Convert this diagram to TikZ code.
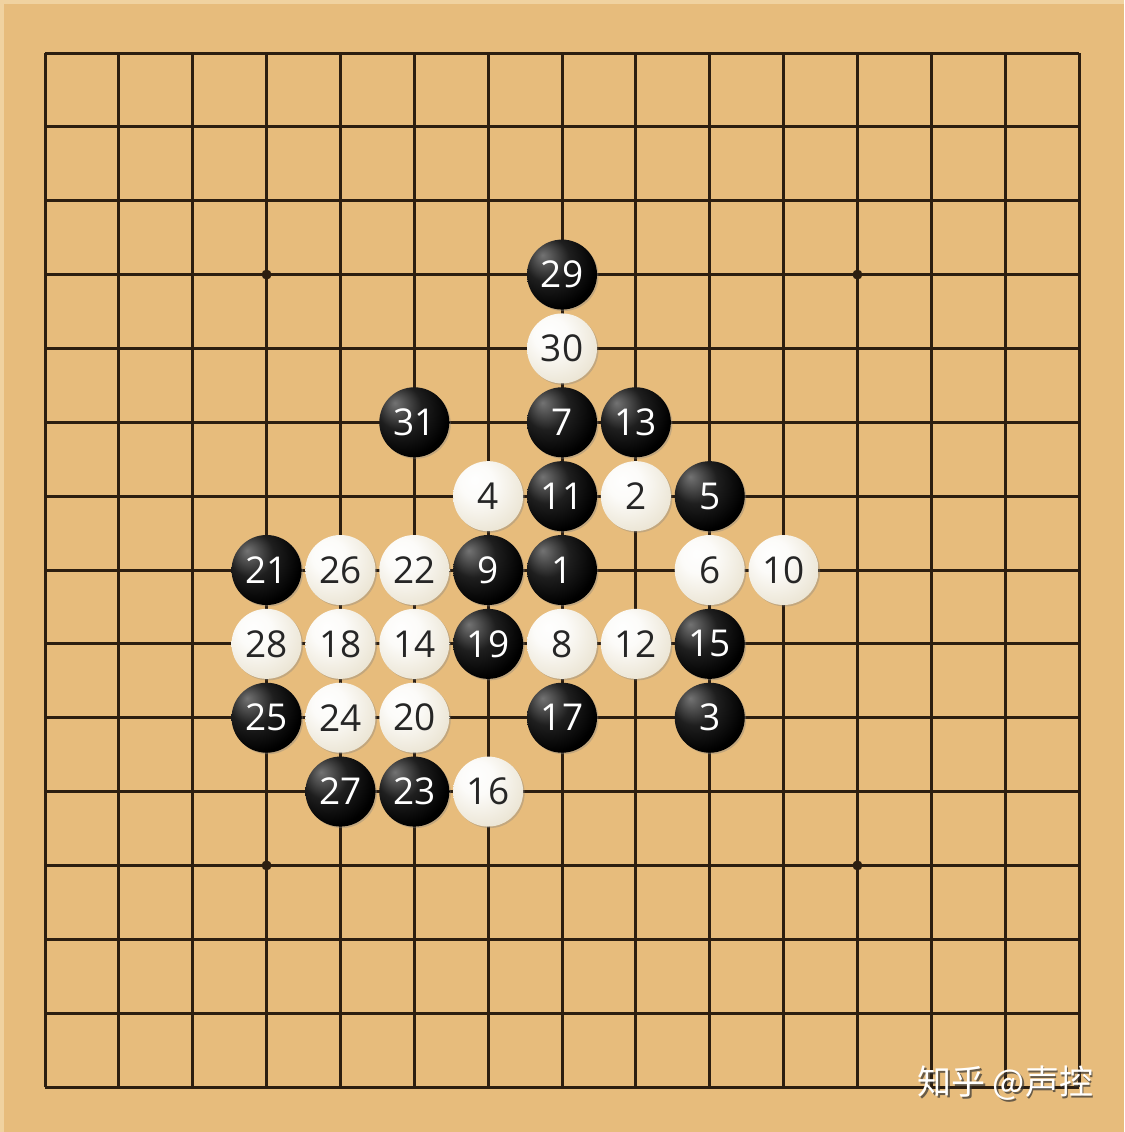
\documentclass[tikz,border=0pt]{standalone}
\usepackage{fontspec}
\setsansfont{Open Sans}
\newfontfamily\cjkfont{Noto Sans CJK SC}
\usetikzlibrary{shadows}

\definecolor{wood}{RGB}{231,188,124}
\definecolor{woodlight}{RGB}{240,210,160}
\definecolor{gridline}{RGB}{44,30,16}
\definecolor{whitemid}{RGB}{236,230,214}
\definecolor{whiteedge}{RGB}{190,176,150}

% stone shadings, light comes from the upper left
\pgfdeclareradialshading{blackshade}{\pgfpoint{-14bp}{14bp}}{color(0bp)=(black!55); color(16bp)=(black!88); color(32bp)=(black); color(70bp)=(black)}
\pgfdeclareradialshading{whiteshade}{\pgfpoint{-10bp}{12bp}}{color(0bp)=(white!97!whitemid); color(12bp)=(white!85!whitemid); color(32bp)=(whitemid); color(54bp)=(whiteedge); color(70bp)=(whiteedge)}

\tikzset{
  stone/.style={circle,minimum size=70pt,inner sep=0pt,
    font=\sffamily\fontsize{37}{37}\selectfont,
    drop shadow={shadow xshift=1.5pt,shadow yshift=-1.5pt,opacity=0.35}},
  bstone/.style={stone,shading=blackshade,text=white},
  wstone/.style={stone,shading=whiteshade,text=black!85},
  starpoint/.style={fill=gridline,circle,inner sep=0pt,minimum size=10pt},
}

\begin{document}
\begin{tikzpicture}[x=73.857pt,y=-73.857pt]
      % board, 15x15 lines, top left line crossing is (0,0)
      \useasboundingbox (-0.6093,-0.7176) rectangle (14.6093,14.6093);
      \fill[wood] (-0.6093,-0.7176) rectangle (14.6093,14.6093);
      \fill[woodlight] (-0.6093,-0.7176) rectangle (14.6093,-0.66);
      \fill[woodlight] (-0.6093,-0.7176) rectangle (-0.55,14.6093);
      \draw[gridline,line width=3pt,xstep=73.857pt,ystep=73.857pt] (0,0) grid (14,14);
      \node[starpoint] (p1) at (3,3) {};
      \node[starpoint] (p2) at (11,3) {};
      \node[starpoint] (p3) at (3,11) {};
      \node[starpoint] (p4) at (11,11) {};
      % moves
      \node[bstone] (s1) at (7,7) {1};
      \node[wstone] (s2) at (8,6) {2};
      \node[bstone] (s3) at (9,9) {3};
      \node[wstone] (s4) at (6,6) {4};
      \node[bstone] (s5) at (9,6) {5};
      \node[wstone] (s6) at (9,7) {6};
      \node[bstone] (s7) at (7,5) {7};
      \node[wstone] (s8) at (7,8) {8};
      \node[bstone] (s9) at (6,7) {9};
      \node[wstone] (s10) at (10,7) {10};
      \node[bstone] (s11) at (7,6) {11};
      \node[wstone] (s12) at (8,8) {12};
      \node[bstone] (s13) at (8,5) {13};
      \node[wstone] (s14) at (5,8) {14};
      \node[bstone] (s15) at (9,8) {15};
      \node[wstone] (s16) at (6,10) {16};
      \node[bstone] (s17) at (7,9) {17};
      \node[wstone] (s18) at (4,8) {18};
      \node[bstone] (s19) at (6,8) {19};
      \node[wstone] (s20) at (5,9) {20};
      \node[bstone] (s21) at (3,7) {21};
      \node[wstone] (s22) at (5,7) {22};
      \node[bstone] (s23) at (5,10) {23};
      \node[wstone] (s24) at (4,9) {24};
      \node[bstone] (s25) at (3,9) {25};
      \node[wstone] (s26) at (4,7) {26};
      \node[bstone] (s27) at (4,10) {27};
      \node[wstone] (s28) at (3,8) {28};
      \node[bstone] (s29) at (7,3) {29};
      \node[wstone] (s30) at (7,4) {30};
      \node[bstone] (s31) at (5,5) {31};
      % watermark
      \node[text=black!80,opacity=0.7,font=\cjkfont\fontsize{34}{34}\selectfont] (markshadow) at ([xshift=1.8pt,yshift=-1.8pt]13,13.946) {知乎 @声控};
      \node[text=white,font=\cjkfont\fontsize{34}{34}\selectfont] (mark) at (13,13.946) {知乎 @声控};
    \end{tikzpicture}
\end{document}
